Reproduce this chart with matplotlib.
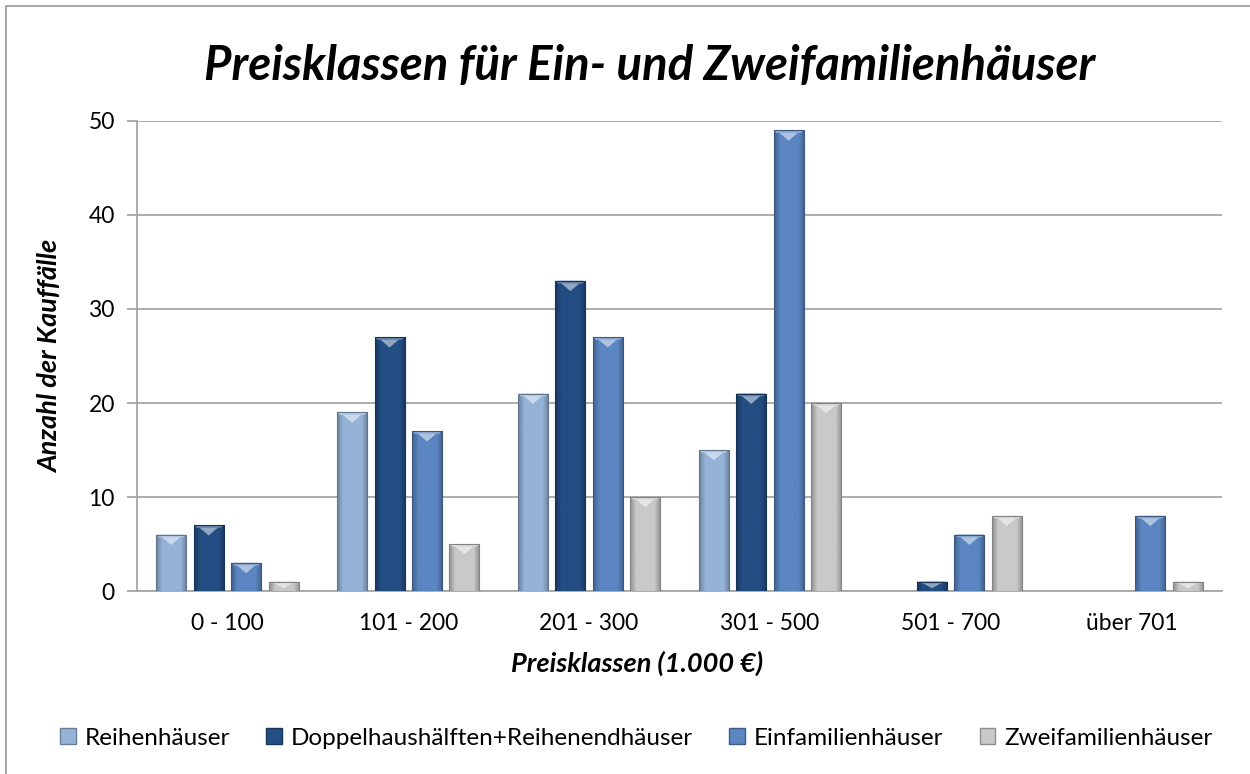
import numpy as np
import matplotlib.pyplot as plt
from matplotlib.patches import Polygon, Rectangle
from matplotlib.colors import to_rgb

plt.rcParams['font.family'] = ['Lato', 'DejaVu Sans']

# data
categories = ["0 - 100", "101 - 200", "201 - 300", "301 - 500", "501 - 700", "über 701"]
series_names = ["Reihenhäuser", "Doppelhaushälften+Reihenendhäuser",
                "Einfamilienhäuser", "Zweifamilienhäuser"]
reihen = [6, 19, 21, 15, 0, 0]
doppel = [7, 27, 33, 21, 1, 0]
einfam = [3, 17, 27, 49, 6, 8]
zweifam = [1, 5, 10, 20, 8, 1]
series_values = [reihen, doppel, einfam, zweifam]
colors = ["#95b3d7", "#234d83", "#5b86c2", "#c9c9c9"]


def shade(c, f):
    r = np.array(to_rgb(c))
    if f < 0:
        return tuple(r * (1 + f))
    return tuple(r + (1 - r) * f)


def bevel_bar(ax, patch, color):
    # horizontal gradient clipped to the bar, plus a light bevel on the top
    x0, y0 = patch.get_x(), patch.get_y()
    w, h = patch.get_width(), patch.get_height()
    if h <= 0:
        return
    t = np.linspace(0, 1, 64)
    prof = 1 - np.abs(t - 0.5) * 2
    base = np.array(to_rgb(color))
    dark = np.array(shade(color, -0.28))
    img = dark[None, :] + (base - dark)[None, :] * np.clip(prof * 2.5, 0, 1)[:, None]
    im = ax.imshow(img[None, :, :], extent=(x0, x0 + w, y0, y0 + h),
                   aspect='auto', zorder=3, interpolation='bilinear')
    im.set_clip_path(patch)
    bh = min(h * 0.7, 1.1)
    top = y0 + h
    inset = w * 0.1
    ax.add_patch(Polygon([(x0 + inset, top), (x0 + w - inset, top),
                          (x0 + w / 2, top - bh)], closed=True,
                         facecolor=shade(color, 0.5), edgecolor='none', zorder=4))
    ax.add_patch(Polygon([(x0, top), (x0 + w, top), (x0 + w - inset, top - bh * 0.25),
                          (x0 + inset, top - bh * 0.25)], closed=True,
                         facecolor=shade(color, 0.3), edgecolor='none', zorder=4))
    ax.add_patch(Rectangle((x0, y0), w, h, facecolor='none',
                           edgecolor=shade(color, -0.35), linewidth=0.8, zorder=5))


fig = plt.figure(figsize=(12.5, 7.74), dpi=100)
ax = fig.add_axes([0.1096, 0.2364, 0.8680, 0.6073])

x = np.arange(len(categories))
step = 0.207
width = 0.166
for i, (vals, col, name) in enumerate(zip(series_values, colors, series_names)):
    bars = ax.bar(x + (i - 1.5) * step, vals, width, color=col, label=name,
                  zorder=2, edgecolor='none')
    for b in bars:
        bevel_bar(ax, b, col)

ax.set_xlim(-0.5, len(categories) - 0.5)
ax.set_ylim(0, 50)
ax.set_yticks(range(0, 51, 10))
ax.set_xticks(x)
ax.set_xticklabels(categories)
ax.yaxis.grid(True, color='#a6a6a6', linewidth=1.3, zorder=0)
ax.set_axisbelow(True)
for s in ['top', 'right']:
    ax.spines[s].set_visible(False)
for s in ['left', 'bottom']:
    ax.spines[s].set_color('#a6a6a6')
    ax.spines[s].set_linewidth(1.3)
ax.tick_params(axis='y', length=7, color='#a6a6a6', width=1.3, labelsize=16.5, pad=9)
ax.tick_params(axis='x', length=0, labelsize=16.5, pad=16)

ax.set_xlabel("Preisklassen (1.000 €)", fontsize=19.5, fontweight='bold',
              fontstyle='italic')
ax.set_ylabel("Anzahl der Kauffälle", fontsize=19.5, fontweight='bold',
              fontstyle='italic')
ax.xaxis.set_label_coords(0.461, -0.127)
ax.yaxis.set_label_coords(-0.069, 0.5)
fig.text(0.52, 0.915, "Preisklassen für Ein- und Zweifamilienhäuser",
         ha='center', va='center', fontsize=34, fontweight='bold', fontstyle='italic')

handles = [Rectangle((0, 0), 1, 1, facecolor=c, edgecolor=shade(c, -0.3)) for c in colors]
fig.legend(handles, series_names, loc='center', bbox_to_anchor=(0.509, 0.046),
           ncol=4, frameon=False, fontsize=17.5, handlelength=0.65, handleheight=0.65,
           handletextpad=0.35, columnspacing=1.5)

# chart frame
fig.patches.append(Rectangle((6 / 1250, -0.05), 1.2, 1 - 6 / 774 + 0.05,
                             transform=fig.transFigure, facecolor='none',
                             edgecolor='#a0a0a0', linewidth=1.3))

fig.savefig("out.png", dpi=100)
